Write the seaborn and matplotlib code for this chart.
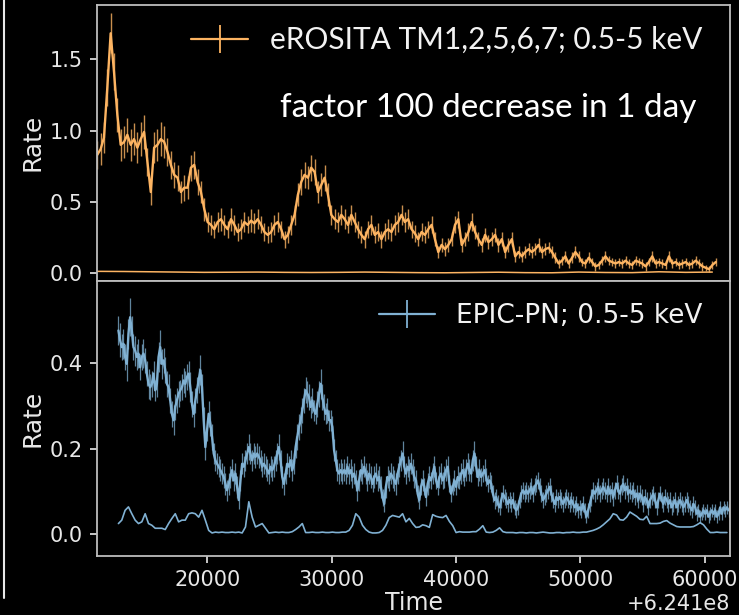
import numpy as np
import pandas as pd
import matplotlib
matplotlib.use("Agg")
import matplotlib.pyplot as plt
import seaborn as sns
from matplotlib.lines import Line2D

# ---------------- data ----------------
T_OFFSET = 6.241e8

ero_label = "eROSITA TM1,2,5,6,7; 0.5-5 keV"
pn_label = "EPIC-PN; 0.5-5 keV"
annotation = "factor 100 decrease in 1 day"

ero_t0, ero_dt = 11150.0, 268.8
ero_rate = [
    0.83, 0.87, 0.95, 1.30, 1.68, 1.41, 1.11, 0.90, 0.92, 0.97,
    0.90, 0.94, 0.88, 0.94, 0.99, 0.78, 0.57, 0.88, 0.90, 0.94,
    0.92, 0.85, 0.76, 0.69, 0.67, 0.57, 0.60, 0.60, 0.74, 0.76,
    0.64, 0.57, 0.45, 0.36, 0.34, 0.31, 0.36, 0.38, 0.34, 0.31,
    0.38, 0.34, 0.29, 0.31, 0.36, 0.34, 0.37, 0.35, 0.38, 0.34,
    0.29, 0.27, 0.29, 0.34, 0.36, 0.31, 0.24, 0.27, 0.34, 0.41,
    0.55, 0.64, 0.69, 0.67, 0.74, 0.71, 0.57, 0.62, 0.67, 0.55,
    0.41, 0.38, 0.36, 0.41, 0.38, 0.34, 0.41, 0.36, 0.31, 0.27,
    0.24, 0.31, 0.34, 0.27, 0.29, 0.24, 0.29, 0.31, 0.29, 0.34,
    0.36, 0.41, 0.36, 0.38, 0.31, 0.28,
    0.24, 0.29, 0.27, 0.31, 0.34, 0.24, 0.15, 0.20, 0.17, 0.20,
    0.24, 0.34, 0.38, 0.20, 0.24, 0.29, 0.36, 0.29, 0.24, 0.20,
    0.27, 0.22, 0.24, 0.27, 0.20, 0.24, 0.15, 0.20, 0.24, 0.12,
    0.15, 0.12, 0.15, 0.17, 0.15, 0.17, 0.20, 0.15, 0.17, 0.18,
    0.15, 0.11, 0.07, 0.09, 0.12, 0.07, 0.11, 0.15, 0.12, 0.08,
    0.07, 0.11, 0.08, 0.05, 0.06, 0.09, 0.12, 0.09, 0.08, 0.07,
    0.08, 0.07, 0.09, 0.07, 0.06, 0.09, 0.08, 0.07, 0.05, 0.08,
    0.12, 0.07, 0.08, 0.07, 0.06, 0.12, 0.07, 0.08, 0.06, 0.07,
    0.08, 0.06, 0.07, 0.09, 0.07, 0.05, 0.04, 0.03, 0.06, 0.08,
]
ero_err = [
    0.10, 0.11, 0.11, 0.13, 0.14, 0.13, 0.12, 0.11, 0.11, 0.12,
    0.11, 0.11, 0.11, 0.12, 0.12, 0.10, 0.09, 0.11, 0.11, 0.12,
    0.11, 0.10, 0.10, 0.09, 0.09, 0.08, 0.09, 0.08, 0.09, 0.10,
    0.09, 0.08, 0.08, 0.07, 0.07, 0.06, 0.07, 0.08, 0.07, 0.06,
    0.08, 0.07, 0.06, 0.07, 0.07, 0.06, 0.08, 0.07, 0.07, 0.06,
    0.06, 0.06, 0.07, 0.07, 0.07, 0.06, 0.06, 0.06, 0.07, 0.07,
    0.08, 0.09, 0.09, 0.08, 0.09, 0.09, 0.08, 0.08, 0.09, 0.08,
    0.07, 0.07, 0.07, 0.07, 0.07, 0.06, 0.07, 0.07, 0.06, 0.06,
    0.06, 0.06, 0.07, 0.06, 0.06, 0.06, 0.06, 0.07, 0.06, 0.07,
    0.07, 0.07, 0.07, 0.07, 0.06, 0.06,
    0.05, 0.06, 0.06, 0.06, 0.06, 0.05, 0.04, 0.05, 0.05, 0.05,
    0.05, 0.06, 0.06, 0.05, 0.05, 0.06, 0.06, 0.05, 0.05, 0.05,
    0.05, 0.05, 0.05, 0.05, 0.05, 0.05, 0.04, 0.05, 0.05, 0.04,
    0.04, 0.04, 0.04, 0.04, 0.04, 0.04, 0.05, 0.04, 0.04, 0.04,
    0.04, 0.04, 0.03, 0.03, 0.04, 0.03, 0.04, 0.04, 0.04, 0.03,
    0.03, 0.04, 0.03, 0.03, 0.03, 0.03, 0.04, 0.03, 0.03, 0.03,
    0.03, 0.03, 0.03, 0.03, 0.03, 0.03, 0.03, 0.03, 0.03, 0.03,
    0.04, 0.03, 0.03, 0.03, 0.03, 0.04, 0.03, 0.03, 0.03, 0.03,
    0.03, 0.03, 0.03, 0.03, 0.03, 0.03, 0.02, 0.02, 0.03, 0.03,
]
ero_bkg_t0, ero_bkg_dt = 11150.0, 2150.0
ero_bkg = [0.015, 0.014, 0.012, 0.010, 0.008, 0.009, 0.010, 0.008, 0.007, 0.008,
           0.010, 0.008, 0.006, 0.005, 0.007, 0.009, 0.006, 0.005, 0.010, 0.007,
           0.006, 0.012, 0.008, 0.010]

pn_t0, pn_dt = 12850.0, 134.4
pn_rate = [
    0.477, 0.454, 0.438, 0.446, 0.415, 0.399, 0.469, 0.508, 0.477, 0.438,
    0.430, 0.415, 0.423, 0.391, 0.415, 0.423, 0.407, 0.376, 0.352, 0.344,
    0.352, 0.376, 0.337, 0.352, 0.415, 0.438, 0.399, 0.407, 0.384, 0.352,
    0.344, 0.313, 0.282, 0.267, 0.298, 0.313, 0.329, 0.337, 0.344, 0.360,
    0.352, 0.368, 0.376, 0.344, 0.305, 0.282, 0.313, 0.337, 0.360, 0.384,
    0.344, 0.267, 0.204, 0.243, 0.282, 0.259, 0.228, 0.189, 0.173, 0.165,
    0.158, 0.150, 0.142, 0.134, 0.118, 0.103, 0.118, 0.134, 0.150, 0.126,
    0.142, 0.111, 0.080, 0.126, 0.165, 0.158, 0.173, 0.189, 0.204, 0.189,
    0.173, 0.189, 0.181, 0.189, 0.181, 0.173, 0.158, 0.165, 0.158, 0.150,
    0.142, 0.158, 0.150, 0.158, 0.173, 0.189, 0.204, 0.173, 0.134, 0.118,
    0.142, 0.165, 0.158, 0.173, 0.150, 0.165, 0.204, 0.228, 0.251, 0.267,
    0.290, 0.313, 0.337, 0.329, 0.321, 0.298, 0.313, 0.290, 0.282, 0.305,
    0.329, 0.352, 0.321, 0.298, 0.282, 0.290, 0.267, 0.267, 0.251, 0.197,
    0.173, 0.150, 0.142, 0.150, 0.142, 0.150, 0.142, 0.158, 0.142, 0.150,
    0.134, 0.142, 0.126, 0.103, 0.126, 0.150, 0.142, 0.158, 0.142, 0.126,
    0.142, 0.134, 0.118, 0.134, 0.142, 0.126, 0.134, 0.111, 0.087, 0.071,
    0.111, 0.134, 0.126, 0.142, 0.134, 0.126, 0.118, 0.142, 0.158, 0.173,
    0.189, 0.158, 0.142, 0.158, 0.150, 0.165, 0.150, 0.134,
    0.126, 0.095, 0.080, 0.111, 0.126, 0.111, 0.087, 0.118, 0.134, 0.126,
    0.142, 0.158, 0.126, 0.111, 0.134, 0.142, 0.126, 0.134, 0.150, 0.158,
    0.118, 0.095, 0.111, 0.126, 0.111, 0.134, 0.126, 0.142, 0.150, 0.134,
    0.150, 0.165, 0.150, 0.142, 0.173, 0.189, 0.158, 0.134, 0.150, 0.134,
    0.142, 0.150, 0.134, 0.118, 0.126, 0.118, 0.095, 0.080, 0.087, 0.071,
    0.063, 0.080, 0.095, 0.087, 0.080, 0.071, 0.080, 0.071, 0.080, 0.063,
    0.056, 0.063, 0.080, 0.095, 0.103, 0.095, 0.103, 0.095, 0.103, 0.111,
    0.095, 0.111, 0.118, 0.126, 0.111, 0.095, 0.080, 0.087, 0.095, 0.103,
    0.111, 0.095, 0.080, 0.071, 0.087, 0.080, 0.087, 0.080, 0.071, 0.080,
    0.087, 0.080, 0.071, 0.080, 0.071, 0.063, 0.071, 0.056, 0.063, 0.056,
    0.071, 0.056, 0.041, 0.056, 0.071, 0.087, 0.103, 0.095, 0.103, 0.111,
    0.095, 0.103, 0.111, 0.103, 0.095, 0.111, 0.095, 0.103, 0.087, 0.103,
    0.118, 0.103, 0.095, 0.111, 0.118, 0.103, 0.111, 0.095, 0.103, 0.095,
    0.103, 0.087, 0.095, 0.080, 0.095, 0.087, 0.071, 0.087, 0.080, 0.063,
    0.080, 0.087, 0.095, 0.080, 0.063, 0.080, 0.095, 0.080, 0.071, 0.087,
    0.080, 0.071, 0.080, 0.063, 0.071, 0.080, 0.063, 0.071, 0.080, 0.071,
    0.063, 0.071, 0.080, 0.071, 0.063, 0.056, 0.071, 0.063, 0.048, 0.056,
    0.041, 0.048, 0.056, 0.048, 0.056, 0.041, 0.048, 0.056, 0.048, 0.056,
    0.041, 0.048, 0.063, 0.048, 0.063, 0.056, 0.063, 0.056,
]
pn_err = [
    0.035, 0.040, 0.030, 0.035, 0.030, 0.040, 0.035, 0.045, 0.035, 0.030,
    0.035, 0.030, 0.035, 0.030, 0.030, 0.035, 0.030, 0.030, 0.035, 0.030,
    0.030, 0.030, 0.025, 0.030, 0.035, 0.040, 0.035, 0.030, 0.030, 0.030,
    0.030, 0.030, 0.030, 0.035, 0.030, 0.030, 0.030, 0.025, 0.030, 0.030,
    0.030, 0.030, 0.030, 0.035, 0.030, 0.030, 0.030, 0.030, 0.030, 0.035,
    0.030, 0.030, 0.030, 0.025, 0.030, 0.030, 0.030, 0.025, 0.025, 0.025,
    0.025, 0.025, 0.025, 0.025, 0.025, 0.025, 0.025, 0.025, 0.025, 0.025,
    0.025, 0.025, 0.020, 0.025, 0.025, 0.025, 0.025, 0.025, 0.030, 0.025,
    0.025, 0.025, 0.025, 0.025, 0.025, 0.025, 0.025, 0.025, 0.025, 0.025,
    0.025, 0.025, 0.025, 0.025, 0.025, 0.025, 0.030, 0.025, 0.025, 0.025,
    0.025, 0.025, 0.025, 0.025, 0.025, 0.025, 0.025, 0.030, 0.030, 0.030,
    0.030, 0.030, 0.030, 0.030, 0.030, 0.025, 0.030, 0.025, 0.025, 0.030,
    0.030, 0.035, 0.030, 0.030, 0.025, 0.030, 0.025, 0.025, 0.025, 0.025,
    0.025, 0.025, 0.025, 0.025, 0.025, 0.025, 0.025, 0.025, 0.025, 0.025,
    0.025, 0.025, 0.025, 0.025, 0.025, 0.025, 0.025, 0.025, 0.025, 0.025,
    0.025, 0.025, 0.020, 0.025, 0.025, 0.025, 0.025, 0.025, 0.020, 0.020,
    0.025, 0.025, 0.025, 0.025, 0.025, 0.025, 0.025, 0.025, 0.025, 0.025,
    0.030, 0.025, 0.025, 0.025, 0.025, 0.025, 0.025, 0.025,
    0.025, 0.020, 0.020, 0.020, 0.025, 0.020, 0.020, 0.025, 0.025, 0.020,
    0.025, 0.025, 0.020, 0.020, 0.025, 0.025, 0.020, 0.025, 0.025, 0.025,
    0.020, 0.020, 0.020, 0.025, 0.020, 0.025, 0.020, 0.025, 0.025, 0.020,
    0.025, 0.025, 0.025, 0.020, 0.025, 0.030, 0.025, 0.020, 0.025, 0.020,
    0.020, 0.025, 0.020, 0.020, 0.020, 0.020, 0.020, 0.020, 0.020, 0.020,
    0.018, 0.018, 0.020, 0.018, 0.018, 0.018, 0.018, 0.018, 0.018, 0.018,
    0.018, 0.018, 0.018, 0.020, 0.020, 0.020, 0.020, 0.020, 0.020, 0.020,
    0.020, 0.020, 0.020, 0.020, 0.020, 0.020, 0.018, 0.018, 0.020, 0.020,
    0.020, 0.020, 0.018, 0.018, 0.018, 0.018, 0.018, 0.018, 0.018, 0.018,
    0.018, 0.018, 0.018, 0.018, 0.018, 0.018, 0.018, 0.018, 0.018, 0.018,
    0.018, 0.018, 0.015, 0.018, 0.018, 0.020, 0.020, 0.020, 0.020, 0.020,
    0.020, 0.020, 0.020, 0.020, 0.020, 0.020, 0.020, 0.020, 0.020, 0.020,
    0.020, 0.020, 0.020, 0.020, 0.020, 0.020, 0.020, 0.020, 0.020, 0.020,
    0.020, 0.018, 0.020, 0.018, 0.020, 0.018, 0.018, 0.018, 0.018, 0.018,
    0.018, 0.018, 0.018, 0.018, 0.018, 0.018, 0.018, 0.018, 0.018, 0.018,
    0.018, 0.018, 0.018, 0.018, 0.018, 0.018, 0.018, 0.018, 0.018, 0.018,
    0.018, 0.018, 0.018, 0.018, 0.018, 0.018, 0.018, 0.018, 0.018, 0.015,
    0.015, 0.015, 0.015, 0.015, 0.015, 0.015, 0.015, 0.015, 0.015, 0.015,
    0.015, 0.015, 0.015, 0.015, 0.015, 0.015, 0.015, 0.015,
]
pn_bkg_t0, pn_bkg_dt = 12850.0, 268.8
pn_bkg = [
    0.025, 0.033, 0.056, 0.064, 0.048, 0.033, 0.025, 0.029, 0.048, 0.025,
    0.021, 0.014, 0.014, 0.014, 0.011, 0.025, 0.037, 0.048, 0.029, 0.033,
    0.033, 0.048, 0.050, 0.048, 0.040, 0.056, 0.033, 0.009, 0.003, 0.005,
    0.004, 0.005, 0.004, 0.004, 0.005, 0.004, 0.005, 0.003, 0.017, 0.076,
    0.040, 0.017, 0.021, 0.025, 0.014, 0.003, 0.004, 0.005, 0.004, 0.005,
    0.004, 0.004, 0.006, 0.011, 0.017, 0.025, 0.004, 0.004, 0.005, 0.004,
    0.004, 0.005, 0.004, 0.004, 0.005, 0.004, 0.004, 0.005, 0.005, 0.009,
    0.021, 0.048, 0.040, 0.021, 0.011, 0.005, 0.003, 0.003, 0.004, 0.009,
    0.021, 0.039, 0.044, 0.042, 0.040, 0.048, 0.029, 0.037, 0.025,
    0.016, 0.017, 0.022, 0.020, 0.016, 0.046, 0.042, 0.040, 0.039, 0.044,
    0.030, 0.020, 0.004, 0.006, 0.005, 0.005, 0.005, 0.006, 0.006, 0.012,
    0.020, 0.005, 0.004, 0.005, 0.009, 0.015, 0.006, 0.004, 0.004, 0.004,
    0.003, 0.004, 0.004, 0.003, 0.004, 0.004, 0.003, 0.004, 0.005, 0.004,
    0.003, 0.003, 0.004, 0.004, 0.003, 0.004, 0.004, 0.005, 0.004, 0.004,
    0.005, 0.005, 0.007, 0.009, 0.012, 0.016, 0.022, 0.029, 0.036, 0.048,
    0.045, 0.034, 0.033, 0.040, 0.052, 0.047, 0.042, 0.035, 0.034, 0.042,
    0.025, 0.025, 0.025, 0.026, 0.030, 0.032, 0.026, 0.022, 0.018, 0.017,
    0.017, 0.017, 0.017, 0.018, 0.022, 0.027, 0.022, 0.012, 0.004, 0.004,
    0.005, 0.004, 0.004, 0.004,
]

x_ticks = [20000, 30000, 40000, 50000, 60000]
ero_yticks = [0.0, 0.5, 1.0, 1.5]
pn_yticks = [0.0, 0.2, 0.4]

ORANGE = "#fdb462"
BLUE = "#80b1d3"
FG = "#e8e8e8"


def frame(t0, dt, vals):
    n = len(vals)
    return pd.DataFrame({"time": T_OFFSET + t0 + dt * np.arange(n), "rate": vals})


ero = frame(ero_t0, ero_dt, ero_rate)
ero["err"] = ero_err
ero_b = frame(ero_bkg_t0, ero_bkg_dt, ero_bkg)
pn = frame(pn_t0, pn_dt, pn_rate)
pn["err"] = pn_err
pn_b = frame(pn_bkg_t0, pn_bkg_dt, pn_bkg)

# ---------------- style ----------------
sns.set_theme(style="dark", rc={
    "axes.facecolor": "black",
    "figure.facecolor": "black",
    "savefig.facecolor": "black",
    "axes.edgecolor": "#bdbdbd",
    "axes.linewidth": 1.3,
    "text.color": FG,
    "axes.labelcolor": FG,
    "xtick.color": FG,
    "ytick.color": FG,
    "axes.grid": False,
})
plt.rcParams["font.family"] = ["DejaVu Sans"]

fig, (ax1, ax2) = plt.subplots(2, 1, sharex=True, figsize=(7.39, 6.15), dpi=100)
fig.subplots_adjust(left=0.1313, right=0.9878, top=0.9919, bottom=0.0959, hspace=0)

# top panel: eROSITA
ax1.errorbar(ero["time"], ero["rate"], yerr=ero["err"], fmt="none",
             ecolor=ORANGE, elinewidth=1.0, alpha=0.8)
sns.lineplot(data=ero, x="time", y="rate", ax=ax1, color=ORANGE, lw=1.7,
             estimator=None, sort=False)
sns.lineplot(data=ero_b, x="time", y="rate", ax=ax1, color=ORANGE, lw=1.1,
             estimator=None, sort=False)

# bottom panel: EPIC-PN
ax2.errorbar(pn["time"], pn["rate"], yerr=pn["err"], fmt="none",
             ecolor=BLUE, elinewidth=0.9, alpha=0.75)
sns.lineplot(data=pn, x="time", y="rate", ax=ax2, color=BLUE, lw=1.7,
             estimator=None, sort=False)
sns.lineplot(data=pn_b, x="time", y="rate", ax=ax2, color=BLUE, lw=1.2,
             estimator=None, sort=False)

ax1.set_ylim(-0.049, 1.878)
ax2.set_ylim(-0.051, 0.594)
ax2.set_xlim(T_OFFSET + 11130, T_OFFSET + 62020)
ax1.set_yticks(ero_yticks)
ax2.set_yticks(pn_yticks)
ax2.set_xticks([T_OFFSET + v for v in x_ticks])

for ax in (ax1, ax2):
    ax.tick_params(axis="both", colors=FG, labelsize=15, length=5, width=1.2,
                   direction="out", left=True, bottom=True, pad=5)
    for s in ax.spines.values():
        s.set_color("#bdbdbd")
        s.set_linewidth(1.3)
    ax.set_ylabel("Rate", fontsize=18, color=FG)
ax1.tick_params(axis="x", bottom=False, labelbottom=False)
ax1.set_xlabel("")
ax2.set_xlabel("Time", fontsize=17, color=FG, labelpad=1)
ax2.xaxis.get_offset_text().set_fontsize(15)
ax2.xaxis.get_offset_text().set_color(FG)
fig.align_ylabels([ax1, ax2])


def err_handle(c):
    return (Line2D([0], [0], color=c, lw=1.6),
            Line2D([0], [0], color=c, marker="|", markersize=20,
                   markeredgewidth=1.3, linestyle="none"))


ax1.legend(handles=[err_handle(ORANGE)], labels=[ero_label], loc="center right",
           bbox_to_anchor=(0.957, 0.873), frameon=False, borderpad=0,
           borderaxespad=0, handlelength=1.9, handletextpad=0.75,
           prop={"family": "Lato", "size": 21.5}, labelcolor="#f2f2f2")
ax2.legend(handles=[err_handle(BLUE)], labels=[pn_label], loc="center right",
           bbox_to_anchor=(0.957, 0.870), frameon=False, borderpad=0,
           borderaxespad=0, handlelength=2.15, handletextpad=0.8,
           prop={"family": "DejaVu Sans", "size": 19}, labelcolor="#f2f2f2")

ax1.text(0.618, 0.593, annotation, transform=ax1.transAxes, ha="center",
         va="baseline", fontsize=24, family="Lato", color="white")

# slide edge line on the far left
fig.add_artist(Line2D([3.5 / 739, 3.5 / 739], [1.0, 1 - 598 / 615],
                      transform=fig.transFigure, color="#e8e8e8", lw=1.5))

fig.savefig("out.png", dpi=100, facecolor="black")
